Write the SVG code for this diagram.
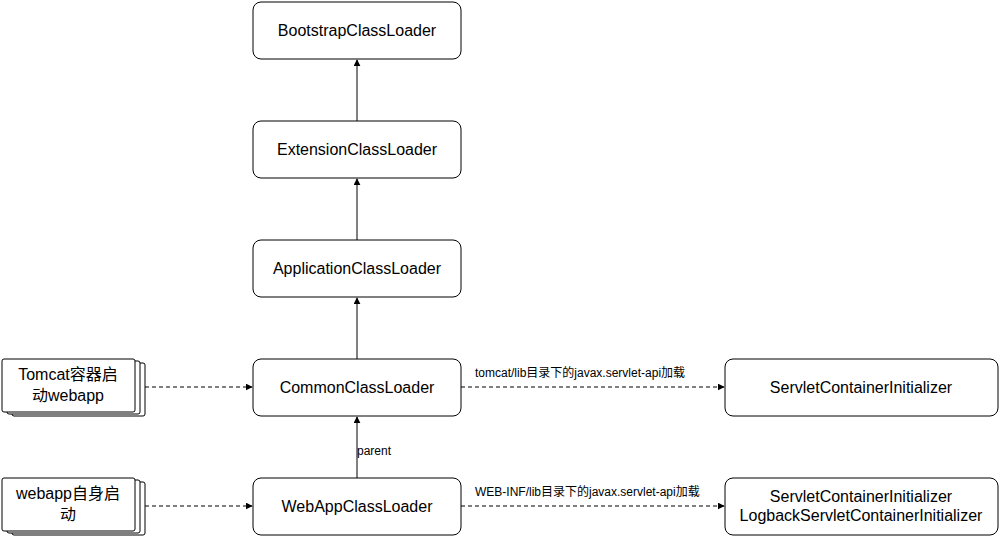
<svg xmlns="http://www.w3.org/2000/svg" width="999" height="536" viewBox="0 0 999 536">
<style>
.n{fill:#fff;stroke:#000;stroke-width:1}
.t{font-family:"Liberation Sans","Noto Sans CJK SC",sans-serif;font-size:16px;fill:#000;text-anchor:middle}
.l{font-family:"Liberation Sans","Noto Sans CJK SC",sans-serif;font-size:12px;fill:#000}
.s{fill:none;stroke:#000;stroke-width:1}
.d{fill:none;stroke:#000;stroke-width:1;stroke-dasharray:4 3}
</style>
<defs>
<marker id="a" viewBox="0 0 10 10" refX="9" refY="5" markerWidth="7" markerHeight="7" markerUnits="userSpaceOnUse" orient="auto">
<path d="M0,0 L10,5 L0,10 Z" fill="#000"/>
</marker>
</defs>
<rect width="999" height="536" fill="#fff"/>
<g id="connectors">
<line class="s" x1="357" y1="121" x2="357" y2="60" marker-end="url(#a)"/>
<line class="s" x1="357" y1="240" x2="357" y2="179" marker-end="url(#a)"/>
<line class="s" x1="357" y1="359" x2="357" y2="298" marker-end="url(#a)"/>
<line class="s" x1="357" y1="478" x2="357" y2="417" marker-end="url(#a)"/>
<text class="l" x="357" y="455">parent</text>
<line class="d" x1="145" y1="387" x2="252" y2="387" marker-end="url(#a)"/>
<line class="d" x1="145" y1="506" x2="252" y2="506" marker-end="url(#a)"/>
<line class="d" x1="461" y1="387" x2="724" y2="387" marker-end="url(#a)"/>
<text class="l" x="475" y="377">tomcat/lib目录下的javax.servlet-api加载</text>
<line class="d" x1="461" y1="506" x2="724" y2="506" marker-end="url(#a)"/>
<text class="l" x="475" y="496">WEB-INF/lib目录下的javax.servlet-api加载</text>
</g>
<g id="bootstrap"><rect class="n" x="253" y="2" width="208" height="57" rx="8"/><text class="t" x="357" y="36">BootstrapClassLoader</text></g>
<g id="extension"><rect class="n" x="253" y="121" width="208" height="57" rx="8"/><text class="t" x="357" y="155">ExtensionClassLoader</text></g>
<g id="application"><rect class="n" x="253" y="240" width="208" height="57" rx="8"/><text class="t" x="357" y="274">ApplicationClassLoader</text></g>
<g id="common"><rect class="n" x="253" y="359" width="208" height="57" rx="8"/><text class="t" x="357" y="393">CommonClassLoader</text></g>
<g id="webapp"><rect class="n" x="253" y="478" width="208" height="57" rx="8"/><text class="t" x="357" y="512">WebAppClassLoader</text></g>
<g id="sci1"><rect class="n" x="725" y="359" width="273" height="57" rx="8"/><text class="t" x="861" y="393">ServletContainerInitializer</text></g>
<g id="sci2"><rect class="n" x="725" y="478" width="273" height="57" rx="8"/><text class="t" x="861" y="502">ServletContainerInitializer</text><text class="t" x="861" y="521">LogbackServletContainerInitializer</text></g>
<g id="tomcat">
<rect class="n" x="12" y="363" width="133" height="53" rx="2"/>
<rect class="n" x="7" y="361" width="133" height="53" rx="2"/>
<rect class="n" x="2" y="359" width="133" height="53" rx="2"/>
<text class="t" x="68" y="380">Tomcat容器启</text>
<text class="t" x="68" y="401">动webapp</text>
</g>
<g id="webappself">
<rect class="n" x="12" y="482" width="133" height="53" rx="2"/>
<rect class="n" x="7" y="480" width="133" height="53" rx="2"/>
<rect class="n" x="2" y="478" width="133" height="53" rx="2"/>
<text class="t" x="68" y="499">webapp自身启</text>
<text class="t" x="68" y="520">动</text>
</g>
</svg>
